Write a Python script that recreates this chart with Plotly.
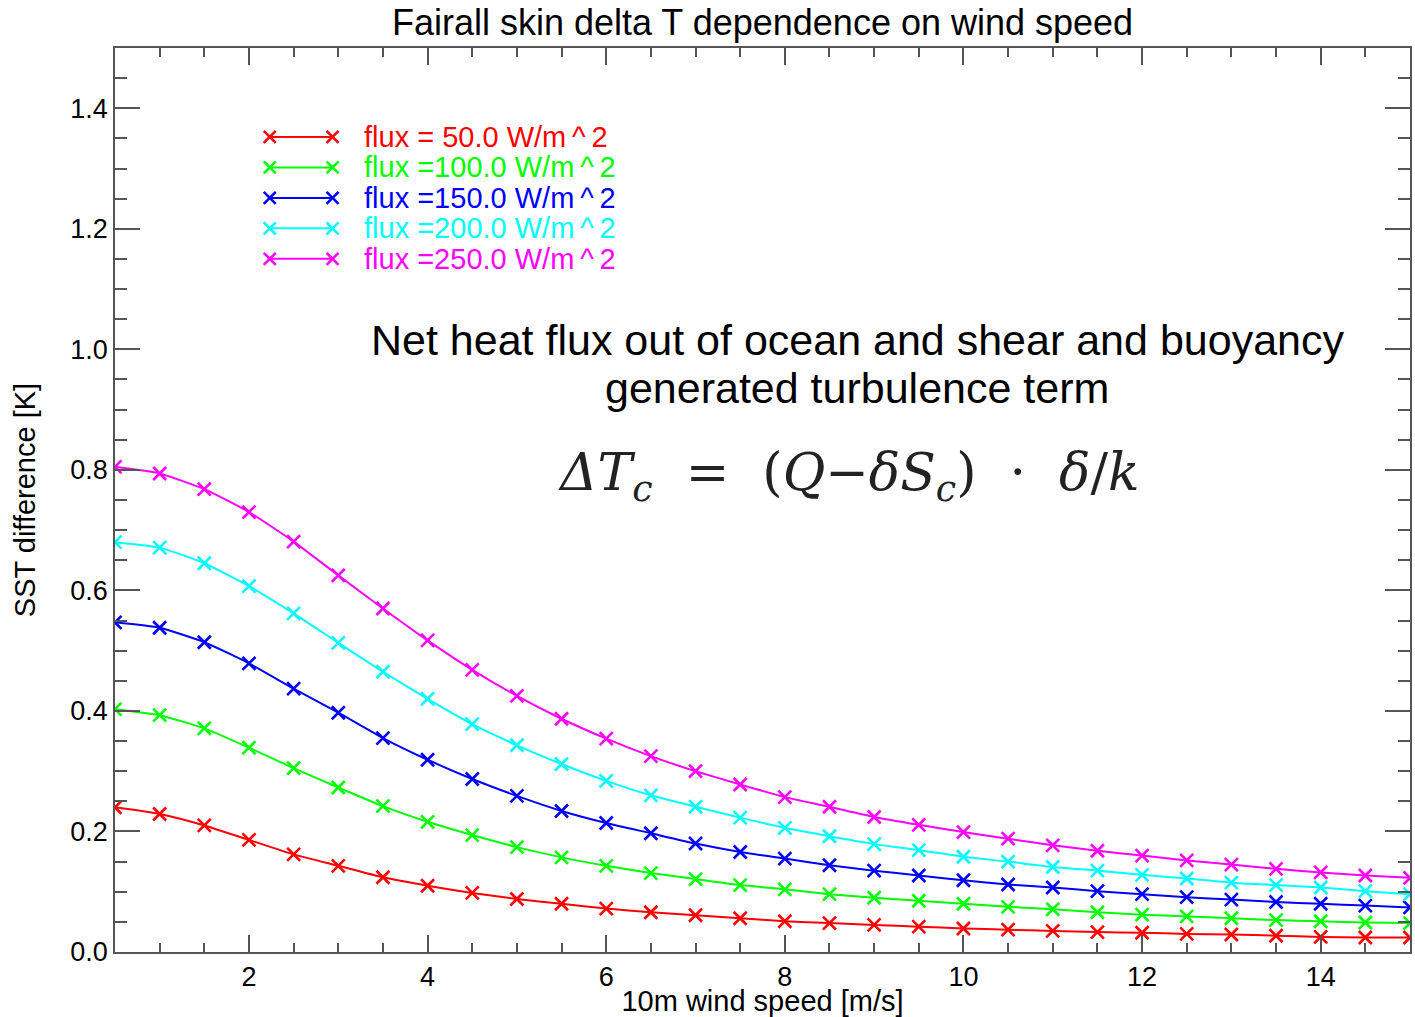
import plotly.graph_objects as go

wind = [0.5, 1.0, 1.5, 2.0, 2.5, 3.0, 3.5, 4.0, 4.5, 5.0, 5.5, 6.0, 6.5, 7.0, 7.5,
        8.0, 8.5, 9.0, 9.5, 10.0, 10.5, 11.0, 11.5, 12.0, 12.5, 13.0, 13.5, 14.0, 14.5, 15.0]

flux_050 = [0.240, 0.229, 0.210, 0.186, 0.162, 0.143, 0.124, 0.110, 0.098, 0.088,
            0.080, 0.072, 0.066, 0.061, 0.056, 0.051, 0.048, 0.045, 0.042, 0.039,
            0.037, 0.035, 0.033, 0.032, 0.030, 0.029, 0.027, 0.025, 0.024, 0.024]
flux_100 = [0.403, 0.393, 0.371, 0.339, 0.305, 0.273, 0.242, 0.216, 0.194, 0.174,
            0.157, 0.143, 0.131, 0.121, 0.111, 0.104, 0.096, 0.090, 0.085, 0.080,
            0.075, 0.071, 0.066, 0.062, 0.059, 0.056, 0.053, 0.051, 0.049, 0.048]
flux_150 = [0.547, 0.538, 0.514, 0.479, 0.437, 0.397, 0.355, 0.319, 0.287, 0.259,
            0.234, 0.214, 0.197, 0.180, 0.166, 0.155, 0.144, 0.135, 0.127, 0.119,
            0.112, 0.107, 0.101, 0.096, 0.091, 0.087, 0.083, 0.080, 0.077, 0.074]
flux_200 = [0.680, 0.671, 0.645, 0.607, 0.562, 0.513, 0.465, 0.420, 0.378, 0.343,
            0.312, 0.284, 0.260, 0.241, 0.223, 0.206, 0.192, 0.179, 0.169, 0.158,
            0.150, 0.141, 0.135, 0.128, 0.122, 0.115, 0.111, 0.107, 0.101, 0.096]
flux_250 = [0.805, 0.794, 0.768, 0.730, 0.681, 0.625, 0.570, 0.517, 0.468, 0.425,
            0.387, 0.354, 0.325, 0.300, 0.278, 0.257, 0.241, 0.224, 0.211, 0.199,
            0.188, 0.177, 0.168, 0.160, 0.152, 0.145, 0.138, 0.132, 0.127, 0.123]

series = [flux_050, flux_100, flux_150, flux_200, flux_250]
labels = ["flux = 50.0 W/m\u2009^\u20092", "flux =100.0 W/m\u2009^\u20092", "flux =150.0 W/m\u2009^\u20092",
          "flux =200.0 W/m\u2009^\u20092", "flux =250.0 W/m\u2009^\u20092"]
colors = ["#FF0000", "#00FF00", "#0000FF", "#00FFFF", "#FF00FF"]

FONT = "Liberation Sans, Arial, Helvetica, sans-serif"
AX = "#555555"

fig = go.Figure()
for vals, lab, col in zip(series, labels, colors):
    fig.add_trace(go.Scatter(
        x=wind, y=vals, mode="lines+markers", name=lab,
        line=dict(color=col, width=2, shape="spline", smoothing=0.5),
        marker=dict(symbol="x-thin", size=13, color=col, line=dict(color=col, width=2.6)),
        showlegend=False))

# custom legend (paper-fraction positions on overlay axes)
leg_x0, leg_x1, leg_tx = 0.1195, 0.168, 0.191
leg_y0, leg_dy = 0.9016, 0.0337
for i, (lab, col) in enumerate(zip(labels, colors)):
    yy = leg_y0 - i * leg_dy
    fig.add_trace(go.Scatter(
        x=[leg_x0, leg_x1], y=[yy, yy], xaxis="x2", yaxis="y2", mode="lines+markers",
        line=dict(color=col, width=2),
        marker=dict(symbol="x-thin", size=12, color=col, line=dict(color=col, width=2.6)),
        showlegend=False, hoverinfo="skip"))
    fig.add_annotation(x=leg_tx, y=yy, xref="x2", yref="y2", text=lab, showarrow=False,
                       xanchor="left", yanchor="middle",
                       font=dict(family=FONT, size=29, color=col))

for txt, yy in [("Net heat flux out of ocean and shear and buoyancy", 0.6768),
                ("generated turbulence term", 0.6237)]:
    fig.add_annotation(
        x=0.573, y=yy, xref="paper", yref="paper", text=txt,
        showarrow=False, xanchor="center", yanchor="middle",
        font=dict(family=FONT, size=43, color="black"))

nb = "\u00a0"
eq = ("<i>ΔT</i><sub><i>c</i></sub>" + nb * 2 + "=" + nb * 2 + "(<i>Q</i>−<i>δS</i><sub><i>c</i></sub>)"
      + nb * 2 + "·" + nb * 2 + "<i>δ</i>/<i>k</i>")
fig.add_annotation(
    x=0.5665, y=0.527, xref="paper", yref="paper", text=eq, showarrow=False,
    xanchor="center", yanchor="middle",
    font=dict(family="DejaVu Serif, Liberation Serif, serif", size=52, color="#222222"))

axis_common = dict(
    showline=True, linecolor=AX, linewidth=1.5, mirror="ticks", ticks="inside",
    tickcolor=AX, tickwidth=1.5, showgrid=False, zeroline=False,
    tickfont=dict(family=FONT, size=27, color="black"))

fig.update_layout(
    width=1415, height=1017,
    margin=dict(l=115, r=3, t=48, b=65),
    paper_bgcolor="white", plot_bgcolor="white",
    title=dict(text="Fairall skin delta T dependence on wind speed",
               x=0.5, xref="paper", y=1 - 22 / 1017, yref="container", yanchor="middle",
               font=dict(family=FONT, size=36, color="black")),
    xaxis=dict(range=[0.5, 15], dtick=2, tick0=0, ticklen=17,
               minor=dict(dtick=0.5, tick0=0, ticklen=9, ticks="inside", tickcolor=AX, tickwidth=1.5),
               title=dict(text="10m wind speed [m/s]", font=dict(family=FONT, size=29, color="black"), standoff=1),
               **axis_common),
    yaxis=dict(range=[0, 1.5], dtick=0.2, tick0=0, ticklen=25, tickformat=".1f",
               minor=dict(dtick=0.05, tick0=0, ticklen=12, ticks="inside", tickcolor=AX, tickwidth=1.5),
               title=dict(text="SST difference [K]", font=dict(family=FONT, size=29, color="black"), standoff=26),
               **axis_common),
    xaxis2=dict(overlaying="x", range=[0, 1], visible=False, fixedrange=True),
    yaxis2=dict(overlaying="y", range=[0, 1], visible=False, fixedrange=True),
    showlegend=False,
)

fig.write_html("out.html")
